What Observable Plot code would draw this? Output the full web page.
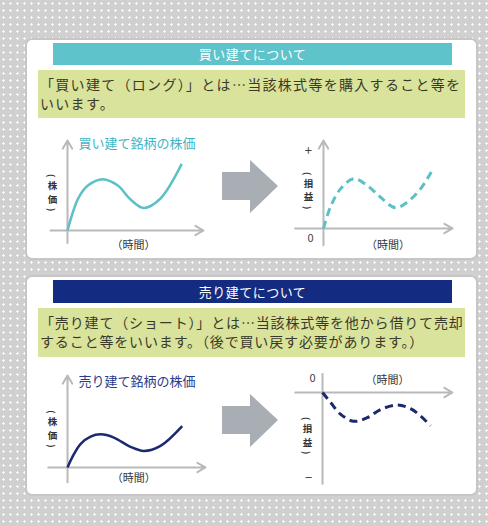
<!DOCTYPE html>
<html lang="ja"><head><meta charset="utf-8">
<script src="https://cdn.jsdelivr.net/npm/d3@7"></script>
<script src="https://cdn.jsdelivr.net/npm/@observablehq/plot@0.6"></script>
<style>
html,body{margin:0;padding:0;}
body{width:488px;height:526px;position:relative;overflow:hidden;font-family:"Noto Sans CJK JP","Noto Sans",sans-serif;background-color:#d0d0d0;background-image:radial-gradient(circle,#ffffff 0.9px,transparent 1.4px);background-size:7px 7px;}
.panel{position:absolute;left:25px;width:449px;background:#fff;border:2px solid #c6c6c6;border-radius:7px;}
.head{position:absolute;left:53px;width:399px;color:#fff;font-size:13px;text-align:center;letter-spacing:0.5px;}
.desc{position:absolute;left:38px;width:427px;background:#d9e39b;color:#3a3a2a;font-size:14px;line-height:19px;padding:5px 0 0 2px;box-sizing:border-box;white-space:nowrap;}
.bigarrow{position:absolute;left:222px;width:56px;height:53px;background:#a9aeb4;clip-path:polygon(0 22.6%,50% 22.6%,50% 0,100% 49%,50% 100%,50% 75.5%,0 75.5%);}
.chart{position:absolute;left:0;top:0;pointer-events:none;}
</style></head><body>
<script>
// ---- text content ----
const sectionTitles = ["買い建てについて", "売り建てについて"];
const sectionDescLines = [
  ["「買い建て（ロング）」とは…当該株式等を購入すること等を", "いいます。"],
  ["「売り建て（ショート）」とは…当該株式等を他から借りて売却", "すること等をいいます。（後で買い戻す必要があります。）"]
];
const curveLabels = ["買い建て銘柄の株価", "売り建て銘柄の株価"];
const timeLabel = "（時間）";
const priceLabel = ["(", "株", "価", ")"];
const plLabel = ["(", "損", "益", ")"];
const plSigns = ["+", "0", "−"];

// ---- data ----
const buyTime   = [0, 0.8, 1.5, 2.6, 3.7, 4.6, 5.6, 6.8, 8.4];
const buyPrice  = [0, 3.6, 5.0, 5.7, 5.0, 3.5, 2.5, 3.5, 7.4];
const buyPLTime = [0, 0.54, 1.32, 2.35, 3.38, 4.42, 5.58, 6.49, 7.52, 8.42];
const buyPL     = [0, 2.45, 4.5, 5.65, 4.9, 3.55, 2.35, 3.0, 4.5, 6.6];
const sellTime   = [0, 0.34, 0.94, 1.67, 2.4, 3.36, 4.56, 5.53, 6.74, 8.31];
const sellPrice  = [0, 1.1, 2.55, 3.35, 3.6, 3.25, 2.25, 1.8, 2.35, 4.5];
const sellPLTime = [0, 0.62, 1.38, 2.41, 3.44, 4.46, 5.74, 6.77, 7.54, 8.31];
const sellPL     = [0, -1.1, -2.4, -3.2, -2.8, -1.9, -1.4, -1.8, -2.6, -3.7];

const teal = "#5dc0c7", navy = "#1b2a6e";

// ---- layout (HTML decorations) ----
function addDiv(cls, style, html) {
  const d = document.createElement("div");
  d.className = cls; d.setAttribute("style", style);
  if (html != null) d.innerHTML = html;
  document.body.appendChild(d);
  return d;
}
addDiv("panel", "top:38px;height:218px");
addDiv("head", "top:43px;height:22px;line-height:22px;background:#5ec3ca", sectionTitles[0]);
addDiv("desc", "top:70px;height:48px;letter-spacing:1.3px", sectionDescLines[0].join("<br>"));
addDiv("bigarrow", "top:160px");
addDiv("panel", "top:275px;height:217px");
addDiv("head", "top:280px;height:23px;line-height:23px;background:#132c82", sectionTitles[1]);
addDiv("desc", "top:308px;height:49px;letter-spacing:0.85px", sectionDescLines[1].join("<br>"));
addDiv("bigarrow", "top:394px");

const axisColor = "#b9b9b9";
const font = {fontFamily: "'Noto Sans CJK JP', sans-serif"};

function verticalLabel(chars, yVal) {
  // stacked vertical Japanese label, parentheses turned sideways
  const offsets = [-17, -6.8, 6.8, 17];
  return chars.map((c, i) => {
    const paren = i === 0 || i === chars.length - 1;
    return Plot.text([c], {x: () => 0, y: () => yVal, dx: paren ? -17 : -15, dy: offsets[i],
      rotate: paren ? 90 : 0, fontSize: paren ? 9 : 9.5, fontWeight: "bold", fill: "#333", ...font});
  });
}

function chart(opts) {
  const pts = opts.time.map((t, i) => ({t, v: opts.values[i]}));
  const [x0, x1] = opts.xDomain, [y0, y1] = opts.yDomain;
  const marks = [
    Plot.arrow([0], {x1: () => x0, x2: () => x1, y1: () => 0, y2: () => 0, stroke: axisColor, strokeWidth: 2, headLength: 7}),
    opts.yArrow
      ? Plot.arrow([0], {x1: () => 0, x2: () => 0, y1: () => y0, y2: () => y1, stroke: axisColor, strokeWidth: 2, headLength: 7})
      : Plot.ruleX([0], {y1: () => y0, y2: () => y1, stroke: axisColor, strokeWidth: 2}),
    Plot.line(pts, {x: "t", y: "v", curve: "catmull-rom", stroke: opts.color, strokeWidth: opts.dashed ? 3 : 2.5,
      strokeDasharray: opts.dashed ? "8,5" : null, strokeLinecap: "butt"}),
    Plot.text([timeLabel], {x: () => opts.timeLabelX, y: () => 0, dy: opts.timeLabelDy, fontSize: 11, fill: "#333", ...font}),
    ...verticalLabel(opts.vLabel, opts.vLabelY)
  ];
  if (opts.curveLabel) marks.push(Plot.text([opts.curveLabel], {x: () => 0, y: () => y1, dx: 11, dy: opts.curveLabelDy, textAnchor: "start", fontSize: 13, fill: opts.labelColor, ...font}));
  (opts.signs || []).forEach(s => marks.push(Plot.text([s.text], {x: () => 0, y: () => s.y, dx: s.dx, dy: s.dy, fontSize: s.size || 11, fill: "#444", ...font})));
  const svg = Plot.plot({
    width: 488, height: 526, margin: 0,
    style: {background: "transparent", overflow: "visible"},
    x: {domain: opts.xDomain, range: opts.xRange, axis: null},
    y: {domain: opts.yDomain, range: opts.yRange, axis: null},
    marks
  });
  svg.classList.add("chart");
  document.body.appendChild(svg);
}

chart({time: buyTime, values: buyPrice, xDomain: [-1.25, 10], xRange: [50, 203], yDomain: [-1.4, 10], yRange: [242.6, 140],
  color: teal, yArrow: true, timeLabelX: 4.85, timeLabelDy: 15, vLabel: priceLabel, vLabelY: 4.2,
  curveLabel: curveLabels[0], curveLabelDy: 3, labelColor: "#3fb6c6"});
chart({time: buyPLTime, values: buyPL, xDomain: [-2.2, 10], xRange: [294.6, 452], yDomain: [-1.9, 10], yRange: [244.7, 140],
  color: teal, dashed: true, yArrow: true, timeLabelX: 5, timeLabelDy: 17, vLabel: plLabel, vLabelY: 4.3,
  signs: [{text: plSigns[0], y: 10, dx: -15, dy: 10, size: 13}, {text: plSigns[1], y: 0, dx: -13, dy: 10}]});
chart({time: sellTime, values: sellPrice, xDomain: [-1.4, 10], xRange: [47.7, 205], yDomain: [-1.6, 10], yRange: [481.7, 375],
  color: navy, yArrow: true, timeLabelX: 4.8, timeLabelDy: 11, vLabel: priceLabel, vLabelY: 4.2,
  curveLabel: curveLabels[1], curveLabelDy: 6, labelColor: "#2b3b8c"});
chart({time: sellPLTime, values: sellPL, xDomain: [-2.1, 10], xRange: [294.7, 452], yDomain: [-10.3, 2.1], yRange: [484.7, 373.1],
  color: navy, dashed: true, yArrow: false, timeLabelX: 5, timeLabelDy: -12, vLabel: plLabel, vLabelY: -4.8,
  signs: [{text: plSigns[1], y: 0, dx: -10, dy: -14}, {text: plSigns[2], y: -9.5, dx: -14, dy: 0, size: 13}]});
</script>
</body></html>
